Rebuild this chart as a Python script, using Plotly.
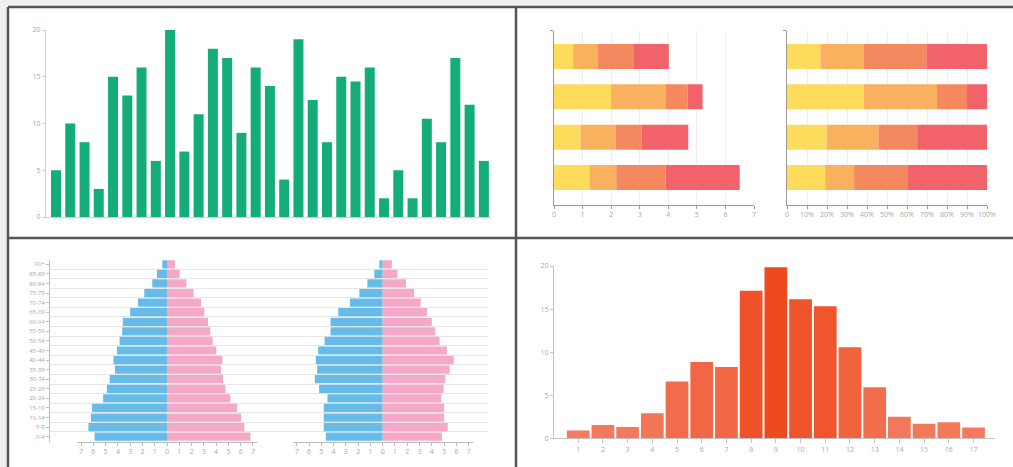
import plotly.graph_objects as go

W, H = 1013, 467
def X(px): return px / W
def Y(py): return 1 - py / H

# ---------------- data ----------------
green_values = [5, 10, 8, 3, 15, 13, 16, 6, 20, 7, 11, 18, 17, 9, 16, 14, 4, 19, 12.5,
                8, 15, 14.5, 16, 2, 5, 2, 10.5, 8, 17, 12, 6]

seg_a = [0.67, 2.00, 0.93, 1.24]
seg_b = [0.87, 1.90, 1.22, 0.94]
seg_c = [1.26, 0.78, 0.91, 1.73]
seg_d = [1.22, 0.52, 1.64, 2.59]
seg_colors = ["#fddc5c", "#f9b160", "#f4895f", "#f1626a"]
abs_ticks = [0, 1, 2, 3, 4, 5, 6, 7]
pct_ticks = [0, 10, 20, 30, 40, 50, 60, 70, 80, 90, 100]
pct_labels = ["0", "10%", "20%", "30%", "40%", "50%", "60%", "70%", "80%", "90%", "100%"]

age_groups = ["0-4", "5-9", "10-14", "15-19", "20-24", "25-29", "30-34", "35-39", "40-44",
              "45-49", "50-54", "55-59", "60-64", "65-69", "70-74", "75-79", "80-84",
              "85-89", "90+"]
male_1 = [5.9, 6.4, 6.2, 6.1, 5.2, 4.9, 4.67, 4.24, 4.35, 4.08, 3.86, 3.65, 3.6, 3.0,
          2.36, 1.85, 1.2, 0.82, 0.38]
female_1 = [6.8, 6.3, 6.03, 5.7, 5.16, 4.75, 4.57, 4.4, 4.5, 4.02, 3.72, 3.53, 3.34, 3.04,
            2.77, 2.17, 1.58, 1.03, 0.65]
male_2 = [4.63, 4.8, 4.8, 4.8, 4.5, 5.18, 5.53, 5.34, 5.45, 5.26, 4.74, 4.25, 4.25, 3.62,
          2.67, 1.9, 1.25, 0.68, 0.27]
female_2 = [4.82, 5.29, 5.01, 5.01, 4.77, 4.96, 5.1, 5.45, 5.78, 5.23, 4.63, 4.28, 4.0, 3.6,
            3.1, 2.56, 1.9, 1.2, 0.74]
pyr_ticks = [-7, -6, -5, -4, -3, -2, -1, 0, 1, 2, 3, 4, 5, 6, 7]

hist_bins = list(range(1, 18))
hist_values = [0.9, 1.55, 1.3, 2.9, 6.58, 8.86, 8.28, 17.14, 19.85, 16.13, 15.32, 10.56,
               5.92, 2.51, 1.7, 1.86, 1.24]

# ---------------- figure ----------------
fig = go.Figure()
tickfont = dict(family="Open Sans", size=7, color="#a8a8a8")

fig.add_trace(go.Bar(x=list(range(len(green_values))), y=green_values, width=0.7,
                     marker=dict(color="#14ad7a", line=dict(width=0)),
                     xaxis="x", yaxis="y", hoverinfo="skip"))

rows = list(range(len(seg_a)))
segs = [seg_a, seg_b, seg_c, seg_d]
totals = [sum(s[i] for s in segs) for i in rows]
for s, c in zip(segs, seg_colors):
    fig.add_trace(go.Bar(y=rows, x=s, orientation="h", width=0.62,
                         marker=dict(color=c, line=dict(width=0)),
                         xaxis="x2", yaxis="y2", hoverinfo="skip"))
for s, c in zip(segs, seg_colors):
    fig.add_trace(go.Bar(y=rows, x=[s[i] / totals[i] * 100 for i in rows], orientation="h",
                         width=0.62, marker=dict(color=c, line=dict(width=0)),
                         xaxis="x3", yaxis="y3", hoverinfo="skip"))

fig.add_trace(go.Scatter(x=[], y=[], xaxis="x4", yaxis="y4", hoverinfo="skip"))
idx = list(range(len(age_groups)))
for m, f, xa in [(male_1, female_1, "x5"), (male_2, female_2, "x6")]:
    fig.add_trace(go.Bar(y=idx, x=[-v for v in m], orientation="h", width=0.86,
                         marker=dict(color="#67bbe9", line=dict(width=0)),
                         xaxis=xa, yaxis="y4", hoverinfo="skip"))
    fig.add_trace(go.Bar(y=idx, x=f, orientation="h", width=0.86,
                         marker=dict(color="#f5a8c8", line=dict(width=0)),
                         xaxis=xa, yaxis="y4", hoverinfo="skip"))

fig.add_trace(go.Bar(x=hist_bins, y=hist_values, width=0.92,
                     marker=dict(color=hist_values,
                                 colorscale=[[0, "#f47b5e"], [1, "#ee4a1f"]],
                                 showscale=False, line=dict(width=0)),
                     xaxis="x7", yaxis="y7", hoverinfo="skip"))

base_ax = dict(showgrid=False, zeroline=False, tickfont=tickfont, fixedrange=True,
               automargin=False)

layout = dict(
    width=W, height=H, margin=dict(l=0, r=0, t=0, b=0, pad=0, autoexpand=False),
    autosize=False,
    paper_bgcolor="#efefef", plot_bgcolor="rgba(0,0,0,0)",
    showlegend=False, barmode="relative",
    font=dict(family="Open Sans"),
    xaxis=dict(base_ax, domain=[X(46), X(491)], range=[-0.7, 30.5], anchor="y",
               showline=True, linecolor="#cfcfcf", linewidth=1, showticklabels=False, ticks=""),
    yaxis=dict(base_ax, domain=[Y(217), Y(30)], range=[0, 20], anchor="x",
               showline=True, linecolor="#cfcfcf", ticks="outside", ticklen=3,
               tickcolor="#cfcfcf", tickvals=[0, 5, 10, 15, 20]),
    xaxis2=dict(base_ax, domain=[X(554), X(754)], range=[0, 7], anchor="y2",
                showline=True, linecolor="#9a9a9a", ticks="outside", ticklen=3,
                tickcolor="#9a9a9a", tickvals=abs_ticks, showgrid=True, gridcolor="#eeeeee"),
    yaxis2=dict(base_ax, domain=[Y(204.7), Y(30.7)], range=[3.675, -0.64], anchor="x2",
                showline=True, linecolor="#9a9a9a", ticks="outside", ticklen=3,
                tickcolor="#9a9a9a", tickvals=[-0.64], showticklabels=False),
    xaxis3=dict(base_ax, domain=[X(787), X(987)], range=[0, 100], anchor="y3",
                showline=True, linecolor="#9a9a9a", ticks="outside", ticklen=3,
                tickcolor="#9a9a9a", tickvals=pct_ticks, ticktext=pct_labels,
                showgrid=True, gridcolor="#eeeeee"),
    yaxis3=dict(base_ax, domain=[Y(204.7), Y(30.7)], range=[3.675, -0.64], anchor="x3",
                showline=True, linecolor="#9a9a9a", ticks="outside", ticklen=3,
                tickcolor="#9a9a9a", tickvals=[-0.64], showticklabels=False),
    xaxis4=dict(domain=[X(49), X(488)], range=[0, 1], anchor="y4", visible=False,
                fixedrange=True),
    yaxis4=dict(base_ax, domain=[Y(441.5), Y(259.5)], range=[-0.5, 18.5], anchor="free",
                position=X(49), showline=True, linecolor="#bdbdbd", ticks="outside",
                ticklen=3, tickcolor="#bdbdbd", tickvals=idx, ticktext=age_groups,
                tickfont=dict(family="Open Sans", size=6, color="#a8a8a8"),
                minor=dict(tickvals=[i + 0.5 for i in range(-1, len(age_groups))],
                           showgrid=True, gridcolor="#e6e6e6", gridwidth=1, ticks="")),
    xaxis5=dict(base_ax, domain=[X(77), X(257)], range=[-7.33, 7.33], anchor="y4",
                showline=True, linecolor="#bdbdbd", ticks="outside", ticklen=3,
                tickcolor="#bdbdbd", tickvals=pyr_ticks, ticktext=[str(abs(v)) for v in pyr_ticks]),
    xaxis6=dict(base_ax, domain=[X(292.7), X(472.7)], range=[-7.33, 7.33], anchor="y4",
                showline=True, linecolor="#bdbdbd", ticks="outside", ticklen=3,
                tickcolor="#bdbdbd", tickvals=pyr_ticks, ticktext=[str(abs(v)) for v in pyr_ticks]),
    xaxis7=dict(base_ax, domain=[X(554), X(995)], range=[0.02, 17.87], anchor="y7",
                showline=True, linecolor="#c4c4c4", ticks="outside", ticklen=4,
                tickcolor="#c4c4c4", tickvals=hist_bins),
    yaxis7=dict(base_ax, domain=[Y(438.3), Y(266)], range=[0, 20], anchor="x7",
                showline=True, linecolor="#c4c4c4", ticks="outside", ticklen=3,
                tickcolor="#c4c4c4", tickvals=[0, 5, 10, 15, 20]),
)
fig.update_layout(**layout)

border = "#555555"
fig.add_shape(type="rect", xref="paper", yref="paper", x0=X(8), x1=1, y0=0, y1=Y(7),
              fillcolor="white", line=dict(width=0), layer="below")
for (x0, y0, x1, y1) in [(X(8), 0, X(8), Y(7)), (X(8), Y(7), 1, Y(7)),
                         (X(516), 0, X(516), Y(7)), (X(8), Y(238), 1, Y(238))]:
    fig.add_shape(type="line", xref="paper", yref="paper", x0=x0, y0=y0, x1=x1, y1=y1,
                  line=dict(color=border, width=2.5), layer="above")

fig.write_html("out.html", config={"displayModeBar": False},
               post_script="document.body.style.margin='0';document.body.style.overflow='hidden';"
                           "document.documentElement.style.overflow='hidden';"
                           "document.documentElement.style.background='#efefef';")
